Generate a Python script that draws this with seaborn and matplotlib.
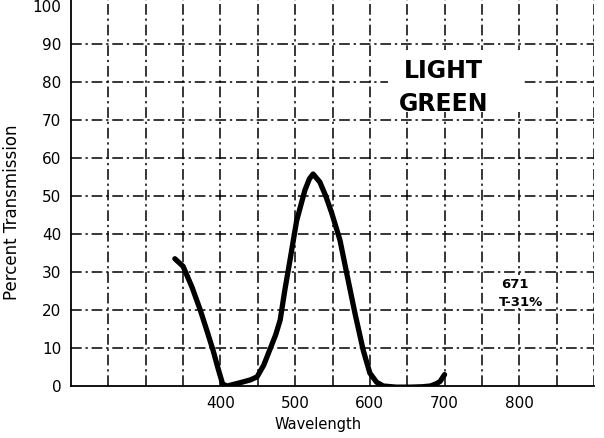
import matplotlib
matplotlib.use("Agg")
import matplotlib.pyplot as plt
import seaborn as sns
import pandas as pd

# Transmission curve of the filter
wavelength = [339, 350, 362, 373, 382, 390, 397, 403, 409, 425, 440, 449, 458,
              466, 474, 480, 486, 493, 502, 513, 519, 524, 533, 541, 549, 560,
              569, 580, 591, 600, 609, 618, 635, 654, 670, 681, 689, 694, 700]
transmission = [33.5, 31.5, 26, 20, 14.5, 9.5, 4.5, 0.5, 0, 0.8, 1.6, 2.4, 5.5,
                9.5, 13.5, 17.4, 25, 33, 43.5, 51.5, 54.5, 55.8, 53.7, 50, 45.5, 38.4,
                29.7, 19.2, 9.5, 3.4, 1, 0, -0.3, -0.3, -0.2, 0, 0.6, 1.2, 3]

x_ticks = [400, 500, 600, 700, 800]
y_ticks = [0, 10, 20, 30, 40, 50, 60, 70, 80, 90, 100]
x_grid = [250, 300, 350, 400, 450, 500, 550, 600, 650, 700, 750, 800, 850, 900]
y_grid = [10, 20, 30, 40, 50, 60, 70, 80, 90]

title_lines = ["LIGHT", "GREEN"]
filter_code = "671"
filter_total = "T-31%"

df = pd.DataFrame({"Wavelength": wavelength, "Percent Transmission": transmission})

sns.set_style("white")
plt.rcParams.update({
    "font.family": ["DejaVu Sans"],
    "text.color": "black",
    "axes.labelcolor": "black",
    "xtick.color": "black",
    "ytick.color": "black",
})

fig = plt.figure(figsize=(6.04, 4.38), dpi=100)
ax = fig.add_axes([71 / 604, 52 / 438, 523 / 604, 386 / 438])

# dash-dot grid lines
grid_style = dict(color="black", linewidth=1.1, linestyle=(0, (7, 2.5, 1.5, 2.5)), zorder=1)
for gx in x_grid:
    ax.axvline(gx, **grid_style)
for gy in y_grid:
    ax.axhline(gy, **grid_style)

# white patches behind the filter labels
ax.fill_between([624, 806], 72, 88.5, color="white", zorder=2, linewidth=0)
ax.fill_between([775, 830], 20.6, 29.3, color="white", zorder=2, linewidth=0)

sns.lineplot(data=df, x="Wavelength", y="Percent Transmission", ax=ax,
             color="black", linewidth=3.8, zorder=3)

ax.set_xlim(200, 900)
ax.set_ylim(0, 101.6)
ax.set_xticks(x_ticks)
ax.set_xticklabels([str(t) for t in x_ticks])
ax.set_yticks(y_ticks)
ax.set_yticklabels([str(t) for t in y_ticks])
ax.tick_params(axis="both", length=0, labelsize=11, pad=7, colors="black")

for side in ["top", "right"]:
    ax.spines[side].set_visible(False)
for side in ["left", "bottom"]:
    ax.spines[side].set_color("black")
    ax.spines[side].set_linewidth(1.3)

ax.set_xlabel("Wavelength", fontsize=10.5, color="black", va="center")
ax.xaxis.set_label_coords((318 - 71) / 523, -38 / 386)
ax.set_ylabel("Percent Transmission", fontsize=12, color="black")
ax.yaxis.set_label_coords(-50 / 523, (386 - 212) / 386)

ax.text(699, 82.9, title_lines[0], fontsize=17, fontweight="heavy", ha="center", va="center", zorder=4)
ax.text(699, 74.2, title_lines[1], fontsize=17, fontweight="heavy", ha="center", va="center", zorder=4)
ax.text(794, 26.6, filter_code, fontsize=9.5, fontweight="bold", ha="center", va="center", zorder=4)
ax.text(802, 22.1, filter_total, fontsize=9.5, fontweight="bold", ha="center", va="center", zorder=4)

fig.savefig("out.png", dpi=100)
